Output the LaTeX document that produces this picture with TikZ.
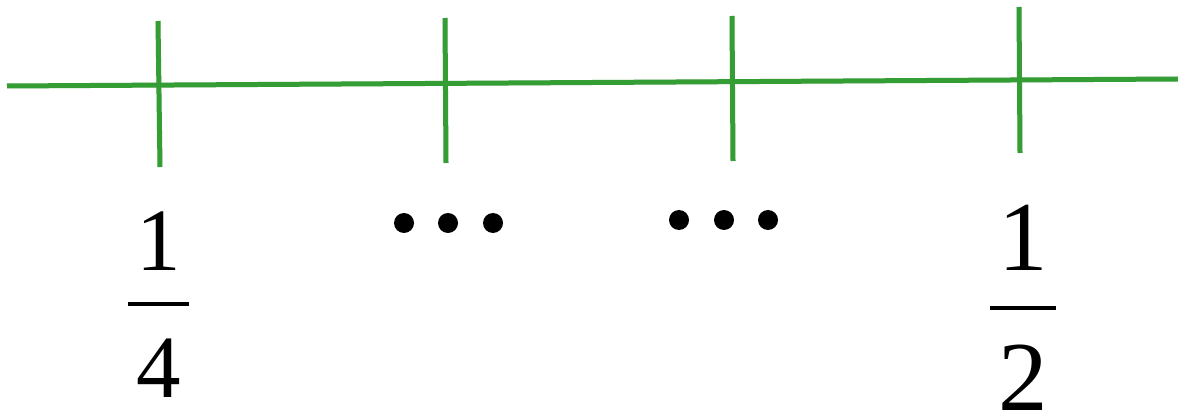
\documentclass[tikz,border=0pt]{standalone}
\usepackage{fontspec}
\setmainfont{Liberation Serif}
\definecolor{linegreen}{RGB}{52,158,52}
\begin{document}
\begin{tikzpicture}[x=1pt,y=-1pt,
  gline/.style={draw=linegreen,line width=5pt},
  shadowline/.style={draw=black!12,line width=5pt},
  fracbar/.style={draw=black,line width=4pt},
  dotfill/.style={fill=black},
  digitA/.style={inner sep=0pt,anchor=base,font=\fontsize{89}{89}\selectfont},
  digitB/.style={inner sep=0pt,anchor=base,font=\fontsize{99}{99}\selectfont}]
\useasboundingbox (0,0) rectangle (1178,414);
% coordinates
\coordinate (L) at (7,86);
\coordinate (R) at (1178,79);
\coordinate (t1a) at (158,21); \coordinate (t1b) at (160,167);
\coordinate (t2a) at (445,18); \coordinate (t2b) at (446,163);
\coordinate (t3a) at (732,16); \coordinate (t3b) at (733,161);
\coordinate (t4a) at (1019,7); \coordinate (t4b) at (1020,153);
% faint shadows
\begin{scope}[shift={(2,4)}]
\draw[shadowline] (L) -- (R);
\draw[shadowline] (t1a) -- (t1b);
\draw[shadowline] (t2a) -- (t2b);
\draw[shadowline] (t3a) -- (t3b);
\draw[shadowline] (t4a) -- (t4b);
\end{scope}
% main line and ticks
\draw[gline] (L) -- (R);
\draw[gline] (t1a) -- (t1b);
\draw[gline] (t2a) -- (t2b);
\draw[gline] (t3a) -- (t3b);
\draw[gline] (t4a) -- (t4b);
% fraction 1/4
\node[digitA] (n1) at (159,270) {1};
\coordinate (b1l) at (128,304); \coordinate (b1r) at (189,304);
\draw[fracbar] (b1l) -- (b1r);
\node[digitA] (d1) at (159,397) {4};
% dots
\fill[dotfill] (404,223) circle (10) (448,223) circle (10) (493,223) circle (10);
\fill[dotfill] (679,220) circle (10) (724,220) circle (10) (768,220) circle (10);
% fraction 1/2
\node[digitB] (n2) at (1023,270) {1};
\coordinate (b2l) at (990,308); \coordinate (b2r) at (1056,308);
\draw[fracbar] (b2l) -- (b2r);
\node[digitB] (d2) at (1023,410) {2};
\end{tikzpicture}
\end{document}
